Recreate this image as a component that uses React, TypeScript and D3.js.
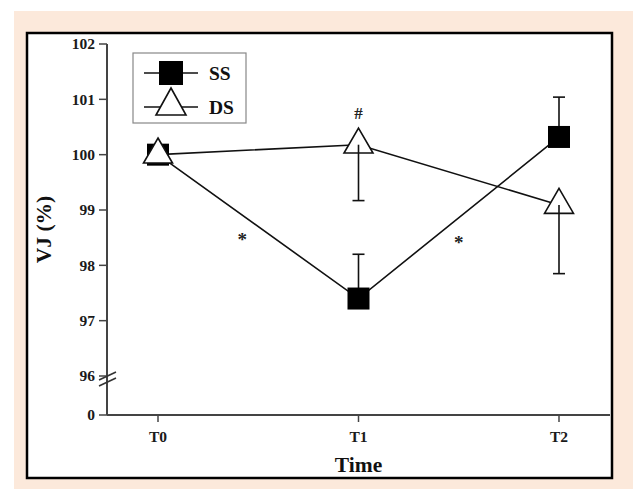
import * as d3 from "d3";
import React from "react";

// time points and values (VJ, %)
const times = ["T0", "T1", "T2"];
const ssValues = [100.0, 97.4, 100.32];
const ssErrUp = [100.0, 98.2, 101.04];
const dsValues = [100.0, 100.18, 99.09];
const dsErrDown = [100.0, 99.17, 97.85];
const yTicks = [0, 96, 97, 98, 99, 100, 101, 102];
const marks = [
  { text: "*", time: "T0", shift: 0.42, value: 98.35 },
  { text: "*", time: "T1", shift: 0.5, value: 98.3 },
  { text: "#", time: "T1", shift: 0, value: 100.65 },
];

const W = 633;
const H = 489;
const font = "'Liberation Serif', 'Times New Roman', serif";

const App = () => {
  // y axis has a break between 0 and 96
  const y = d3.scaleLinear().domain([0, 96, 102]).range([415, 376, 44]);
  const x = d3.scalePoint().domain(times).range([158, 559]);
  const step = x.step();

  const axisLeft = 107;
  const axisRight = 610;
  const axisBottom = y(0);

  const line = d3
    .line<number>()
    .x((d, i) => x(times[i]) as number)
    .y((d) => y(d));

  const sq = 22;
  const tri = (s: number, h: number) =>
    `M0,${-(2 * h) / 3}L${s / 2},${h / 3}L${-s / 2},${h / 3}Z`;

  return (
    <svg
      width={W}
      height={H}
      style={{ position: "absolute", left: 0, top: 0, display: "block" }}
    >
      <rect x={0} y={0} width={W} height={H} fill="#fff" />
      <rect x={14} y={11} width={W - 14} height={H - 11} fill="#fce9db" />
      <rect
        x={27}
        y={33}
        width={585}
        height={445}
        fill="#fff"
        stroke="#000"
        strokeWidth={2.5}
      />

      {/* y axis */}
      <line x1={axisLeft} x2={axisLeft} y1={y(102)} y2={axisBottom} stroke="#444" strokeWidth={2} />
      {yTicks.map((t) => (
        <g key={t} transform={`translate(${axisLeft},${y(t)})`}>
          <line x1={-8} x2={0} stroke="#444" strokeWidth={1.5} />
          <text
            x={-12}
            dy="0.35em"
            textAnchor="end"
            fontFamily={font}
            fontWeight="bold"
            fontSize={15.5}
            fill="#1a1a1a"
          >
            {t}
          </text>
        </g>
      ))}
      {/* break marks */}
      <line x1={axisLeft - 8} y1={y(96) + 4} x2={axisLeft + 9} y2={y(96) - 4} stroke="#333" strokeWidth={1.5} />
      <line x1={axisLeft - 8} y1={y(96) + 10} x2={axisLeft + 9} y2={y(96) + 2} stroke="#333" strokeWidth={1.5} />

      {/* x axis */}
      <line x1={axisLeft} x2={axisRight} y1={axisBottom} y2={axisBottom} stroke="#444" strokeWidth={2} />
      {times.map((t) => (
        <g key={t} transform={`translate(${x(t)},${axisBottom})`}>
          <line y1={0} y2={7} stroke="#444" strokeWidth={1.5} />
          <text
            y={27}
            textAnchor="middle"
            fontFamily={font}
            fontWeight="bold"
            fontSize={15.5}
            fill="#1a1a1a"
          >
            {t}
          </text>
        </g>
      ))}

      {/* axis titles */}
      <text
        transform={`translate(51,${(y(102) + axisBottom) / 2}) rotate(-90)`}
        textAnchor="middle"
        fontFamily={font}
        fontWeight="bold"
        fontSize={21.5}
        fill="#111"
      >
        VJ (%)
      </text>
      <text
        x={(axisLeft + axisRight) / 2}
        y={472}
        textAnchor="middle"
        fontFamily={font}
        fontWeight="bold"
        fontSize={21.5}
        fill="#111"
      >
        Time
      </text>

      {/* lines */}
      <path d={line(ssValues) as string} fill="none" stroke="#111" strokeWidth={1.6} />
      <path d={line(dsValues) as string} fill="none" stroke="#111" strokeWidth={1.6} />

      {/* error bars */}
      {times.map((t, i) =>
        ssErrUp[i] !== ssValues[i] ? (
          <g key={"se" + t} stroke="#111" strokeWidth={1.6}>
            <line x1={x(t)} x2={x(t)} y1={y(ssValues[i])} y2={y(ssErrUp[i])} />
            <line x1={(x(t) as number) - 6} x2={(x(t) as number) + 6} y1={y(ssErrUp[i])} y2={y(ssErrUp[i])} />
          </g>
        ) : null
      )}
      {times.map((t, i) =>
        dsErrDown[i] !== dsValues[i] ? (
          <g key={"de" + t} stroke="#111" strokeWidth={1.6}>
            <line x1={x(t)} x2={x(t)} y1={y(dsValues[i])} y2={y(dsErrDown[i])} />
            <line x1={(x(t) as number) - 6} x2={(x(t) as number) + 6} y1={y(dsErrDown[i])} y2={y(dsErrDown[i])} />
          </g>
        ) : null
      )}

      {/* SS markers */}
      {times.map((t, i) => (
        <rect
          key={"s" + t}
          x={(x(t) as number) - sq / 2}
          y={y(ssValues[i]) - sq / 2}
          width={sq}
          height={sq}
          fill="#000"
        />
      ))}
      {/* DS markers */}
      {times.map((t, i) => (
        <g key={"d" + t} transform={`translate(${x(t)},${y(dsValues[i])})`}>
          <path d={tri(29, 25)} fill="#fff" stroke="#111" strokeWidth={1.6} />
          {dsErrDown[i] !== dsValues[i] ? (
            <line y1={0} y2={8.3} stroke="#111" strokeWidth={1.6} />
          ) : null}
        </g>
      ))}

      {/* significance marks */}
      {marks.map((m, i) => (
        <text
          key={i}
          x={(x(m.time) as number) + m.shift * step}
          y={y(m.value)}
          textAnchor="middle"
          fontFamily={font}
          fontWeight="bold"
          fontSize={m.text === "#" ? 17 : 19}
          fill="#222"
        >
          {m.text}
        </text>
      ))}

      {/* legend */}
      <rect x={133} y={53} width={113} height={70} fill="#fff" stroke="#888" strokeWidth={1.2} />
      <line x1={144} x2={198} y1={73} y2={73} stroke="#111" strokeWidth={1.6} />
      <rect x={171 - 12} y={73 - 12} width={24} height={24} fill="#000" />
      <text x={209} y={80} fontFamily={font} fontWeight="bold" fontSize={19.5} fill="#111">
        SS
      </text>
      <line x1={144} x2={198} y1={107} y2={107} stroke="#111" strokeWidth={1.6} />
      <path d={tri(30, 27)} transform="translate(171,106)" fill="#fff" stroke="#111" strokeWidth={1.6} />
      <text x={209} y={114} fontFamily={font} fontWeight="bold" fontSize={19.5} fill="#111">
        DS
      </text>
    </svg>
  );
};

export default App;
